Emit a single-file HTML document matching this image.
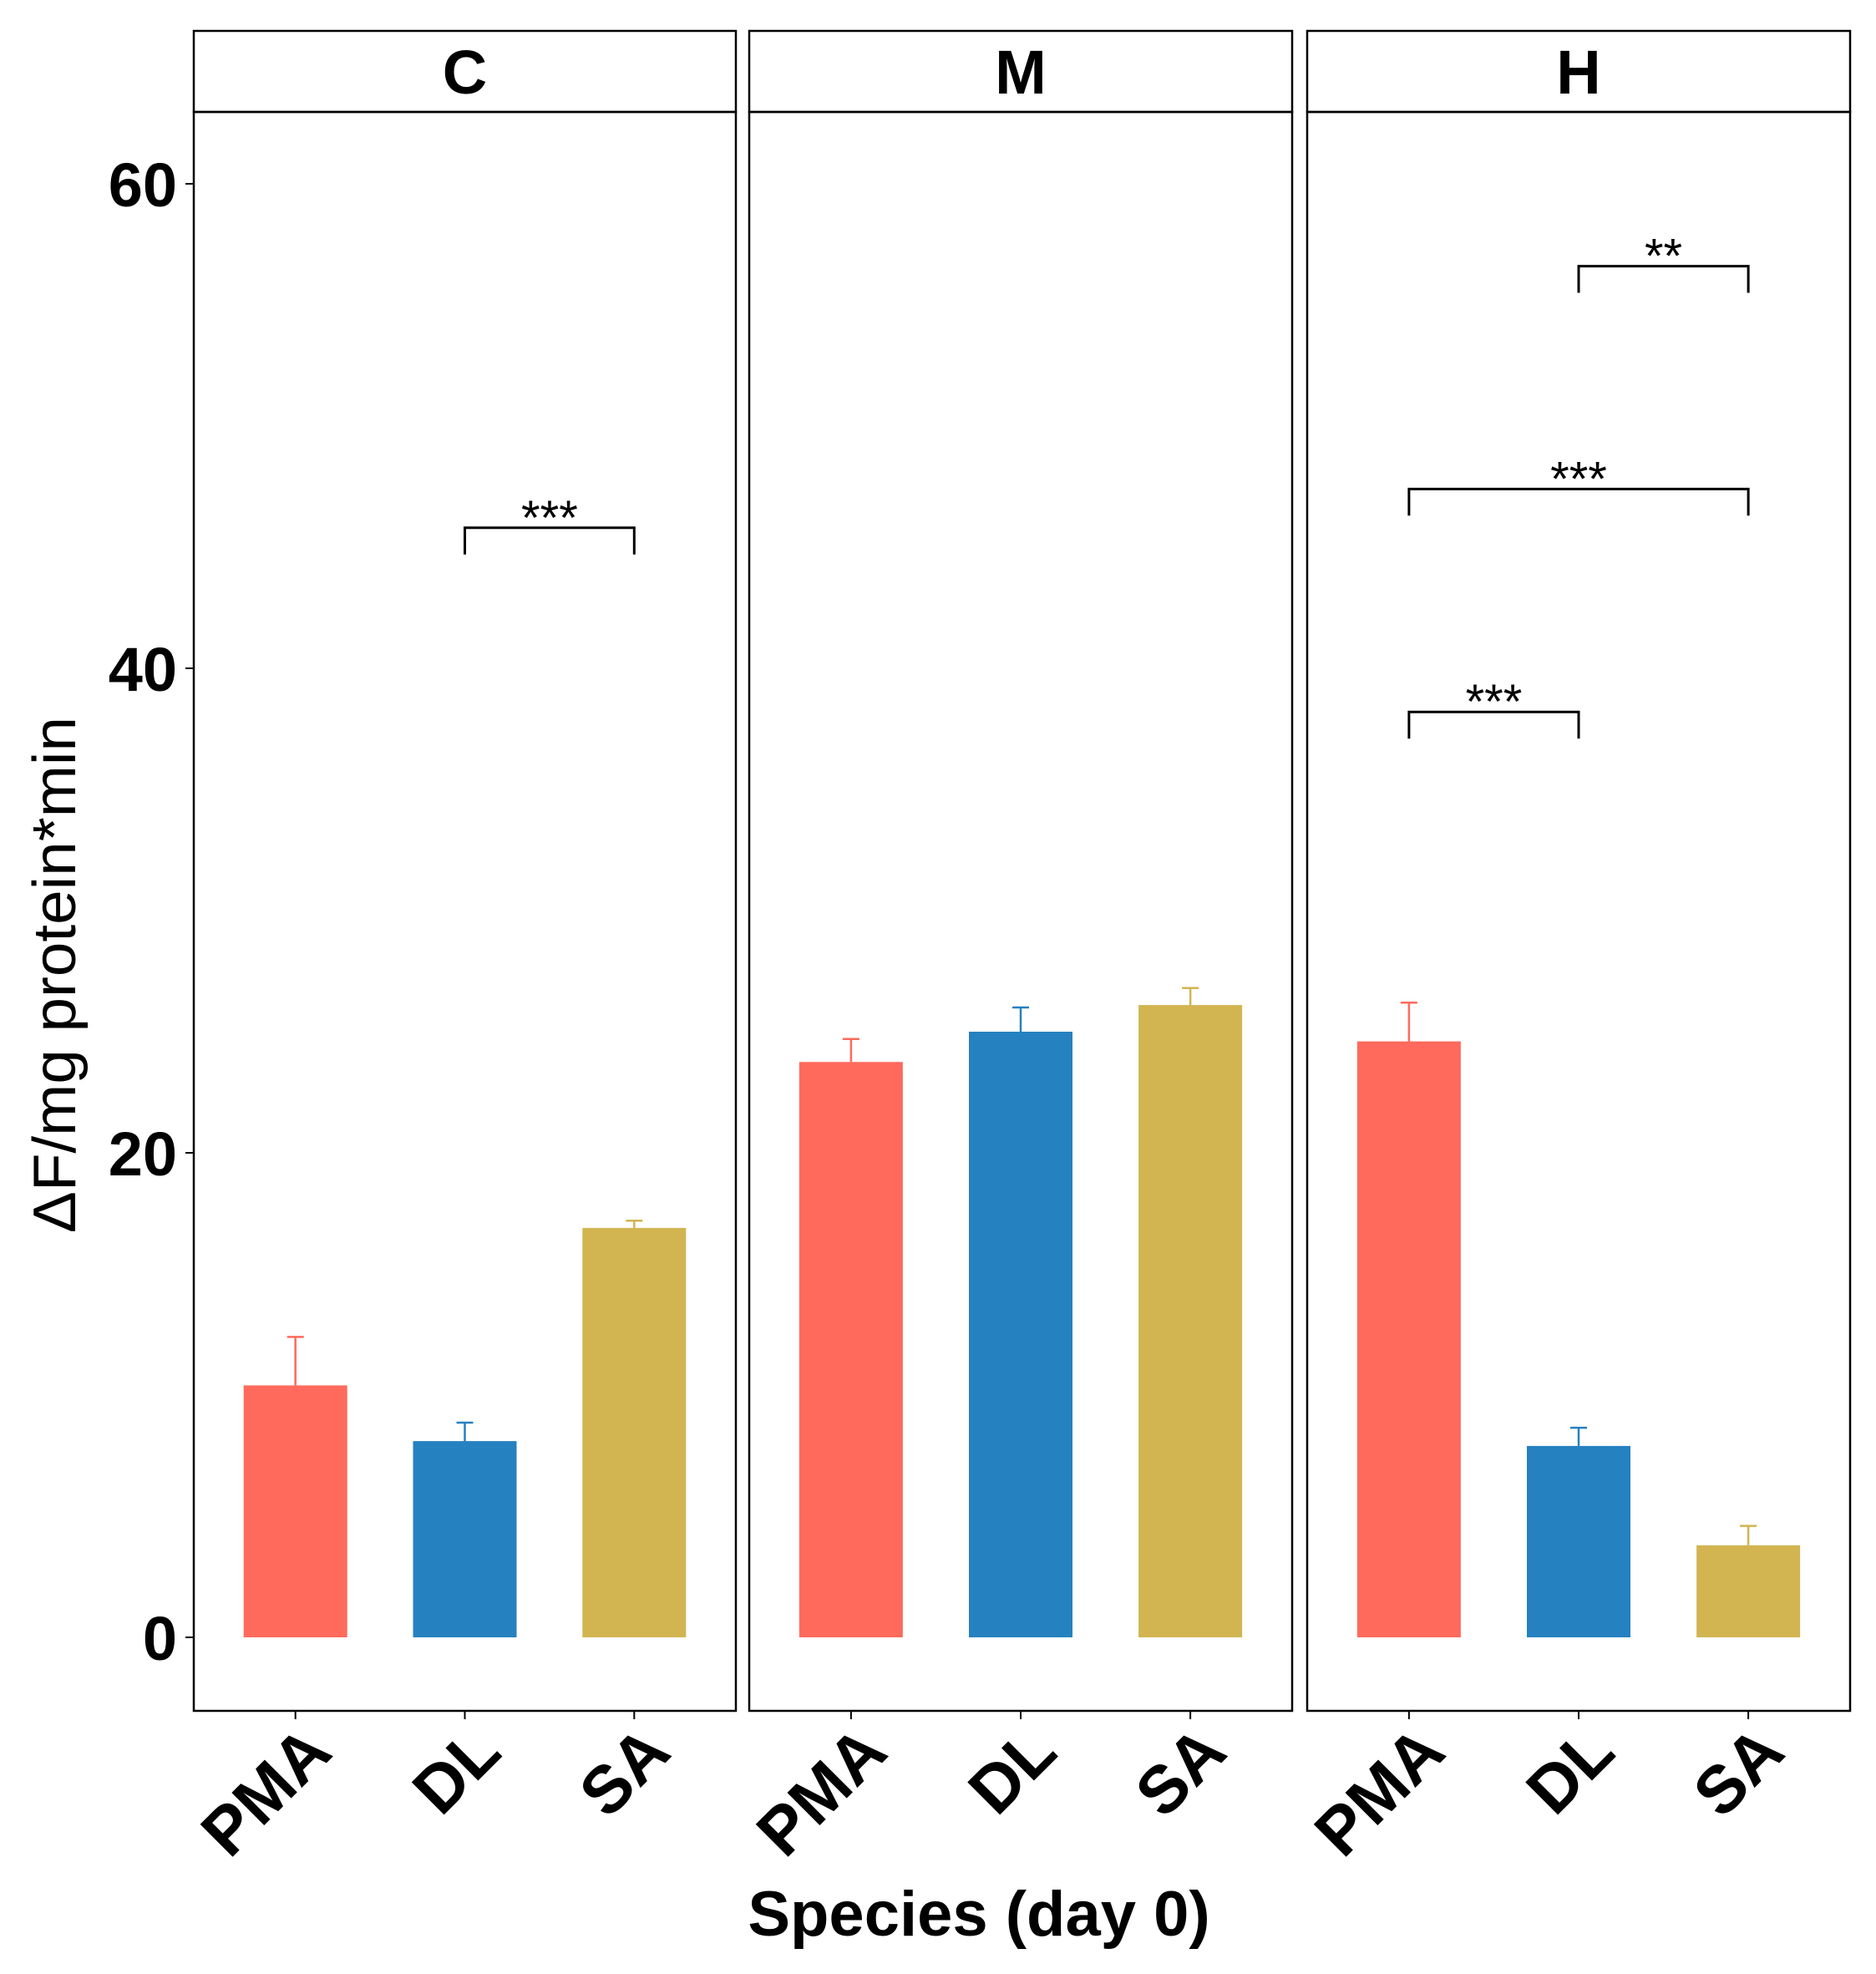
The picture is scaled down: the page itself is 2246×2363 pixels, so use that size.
<!DOCTYPE html>
<html><head><meta charset="utf-8"><style>
html,body{margin:0;padding:0;background:#fff;}
svg{display:block;font-family:"Liberation Sans",Arial,sans-serif;}
</style></head><body>
<svg id="chart" width="2246" height="2363" viewBox="0 0 2246 2363" xmlns="http://www.w3.org/2000/svg">
<text transform="translate(90,1167) rotate(-90)" text-anchor="middle" font-size="72" textLength="618" lengthAdjust="spacingAndGlyphs">ΔF/mg protein*min</text>
<text x="1172" y="2317" text-anchor="middle" font-size="76" font-weight="bold">Species (day 0)</text>
</svg>
<script>
const panels = ["C", "M", "H"];
const categories = ["PMA", "DL", "SA"];
const meansC = [10.4, 8.1, 16.9];
const errC = [12.4, 8.86, 17.2];
const meansM = [23.75, 25.0, 26.1];
const errM = [24.7, 26.0, 26.8];
const meansH = [24.6, 7.9, 3.8];
const errH = [26.2, 8.65, 4.6];
const yTicks = [0, 20, 40, 60];
const sigC = [[1, 2, 45.8, "***"]];
const sigM = [];
const sigH = [[1, 2, 56.6, "**"], [0, 2, 47.4, "***"], [0, 1, 38.2, "***"]];

const means = [meansC, meansM, meansH];
const errs = [errC, errM, errH];
const sigs = [sigC, sigM, sigH];
const colors = ["#FF6A5C", "#2681C0", "#D2B451"];
const panelX = [[232, 881], [897, 1547], [1565, 2215]];
const stripTop = 37, stripBot = 134, plotBot = 2048;
const NS = "http://www.w3.org/2000/svg";
const svg = document.getElementById("chart");
function yS(v){ return 1960 - v * 29.0; }
function xS(p, i){ const [a,b] = panelX[p]; const u = (b - a) / 3.2; return a + (i + 0.6) * u; }
function mk(tag, attrs, parent){ const e = document.createElementNS(NS, tag); for (const k in attrs) e.setAttribute(k, attrs[k]); (parent||svg).appendChild(e); return e; }

yTicks.forEach(t => {
  const y = yS(t);
  const tk = mk("line", {x1: 222, x2: 232, y1: y, y2: y, stroke: "#000", "stroke-width": 2});
  
  
  const lb = mk("text", {x: 212, y: y + 27, "text-anchor": "end", "font-size": 74, "font-weight": "bold"});
  
  
  lb.textContent = t;
});

panels.forEach((pn, p) => {
  const [a, b] = panelX[p];
  const g = mk("g", {});
  
  
  const strip = mk("rect", {x: a, y: stripTop, width: b - a, height: stripBot - stripTop, fill: "#fff", stroke: "#000", "stroke-width": 2.5}, g);
  
  
  const st = mk("text", {x: (a + b) / 2, y: 112, "text-anchor": "middle", "font-size": 74, "font-weight": "bold"}, g);
  
  
  st.textContent = pn;
  categories.forEach((c, i) => {
    const cx = xS(p, i), w = 124;
    const bar = mk("rect", {x: cx - w / 2, y: yS(means[p][i]), width: w, height: yS(0) - yS(means[p][i]), fill: colors[i]}, g);
    
    
    const eb = mk("path", {d: `M${cx},${yS(means[p][i])}V${yS(errs[p][i])}M${cx-10},${yS(errs[p][i])}H${cx+10}`, stroke: colors[i], "stroke-width": 2.5, fill: "none"}, g);
    
    
    const xt = mk("line", {x1: cx, x2: cx, y1: plotBot, y2: plotBot + 10, stroke: "#000", "stroke-width": 2}, g);
    
    
    const xl = mk("text", {transform: `translate(${cx + 6},${plotBot + 12}) rotate(-45)`, "text-anchor": "end", dy: "0.72em", "font-size": 80, "font-weight": "bold"}, g);
    
    
    xl.textContent = c;
  });
  sigs[p].forEach(s => {
    const x1 = xS(p, s[0]), x2 = xS(p, s[1]), y = yS(s[2]), yb = yS(s[2] - 1.1);
    const br = mk("path", {d: `M${x1},${yb}V${y}H${x2}V${yb}`, stroke: "#000", "stroke-width": 3, fill: "none"}, g);
    
    
    const tx = mk("text", {x: (x1 + x2) / 2, y: y + 8, "text-anchor": "middle", "font-size": 58}, g);
    
    
    tx.textContent = s[3];
  });
  const frame = mk("rect", {x: a, y: stripBot, width: b - a, height: plotBot - stripBot, fill: "none", stroke: "#000", "stroke-width": 2.5}, g);
  
  
});
</script>
</body></html>
